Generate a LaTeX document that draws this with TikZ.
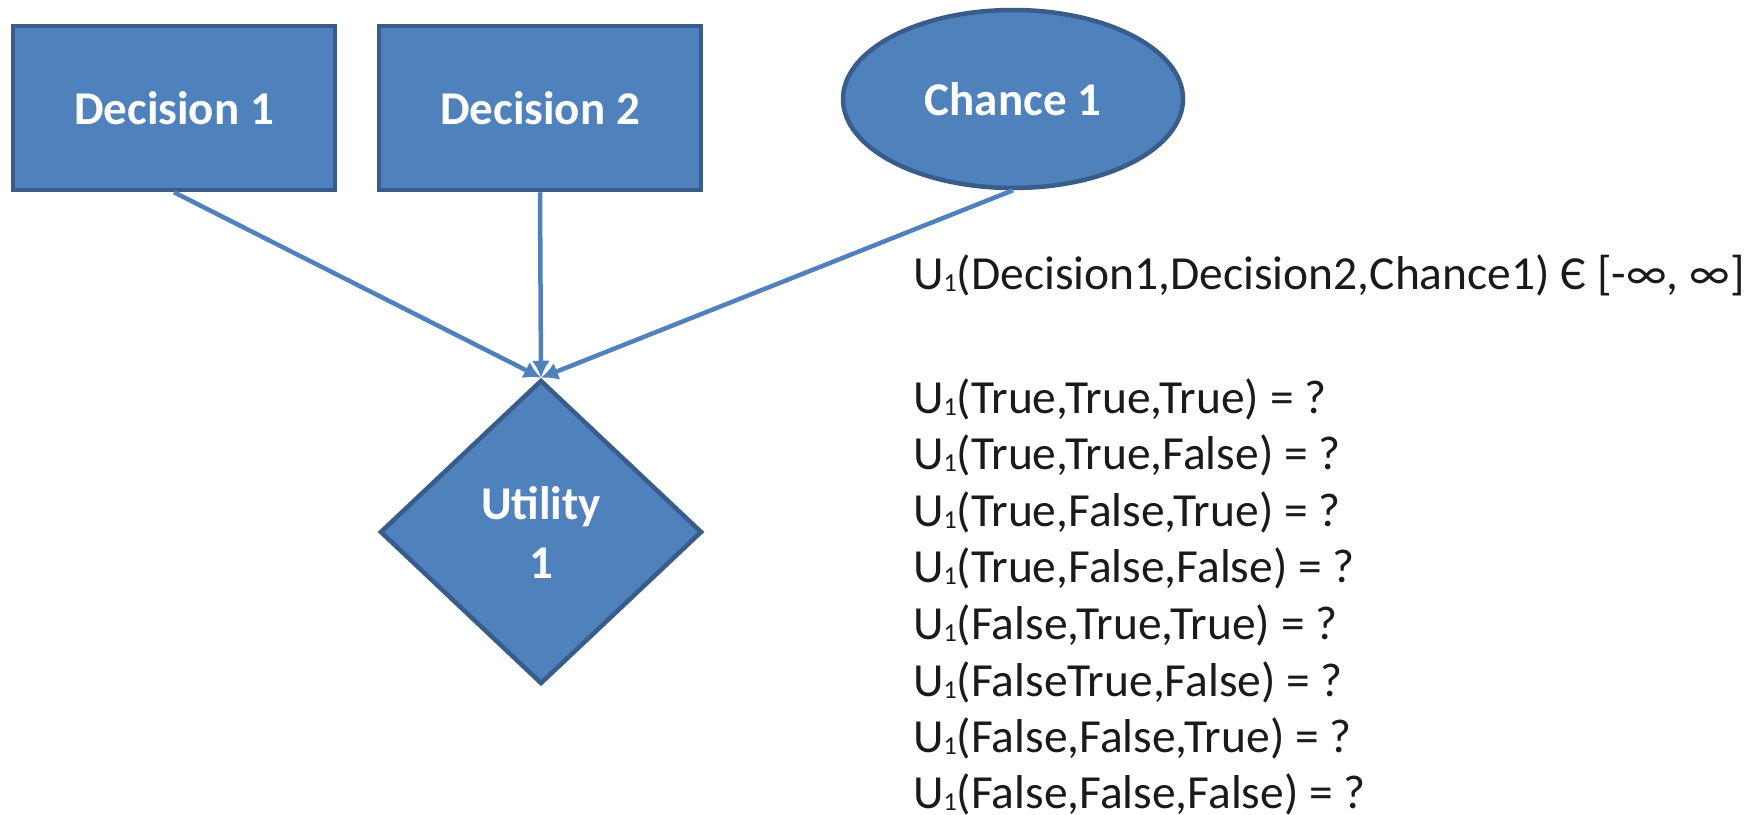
\documentclass[tikz,border=0pt]{standalone}
\usepackage{fontspec}
\setmainfont{Carlito}
\usetikzlibrary{shapes.geometric,arrows.meta}
\definecolor{nodefill}{HTML}{4F81BD}
\definecolor{nodeline}{HTML}{385D8A}
\definecolor{textdark}{HTML}{1A1A1A}
\tikzset{
  shapebase/.style={fill=nodefill, draw=nodeline, line width=4.5pt, text=white,
    font=\fontsize{47}{59}\selectfont\bfseries, inner sep=0pt, align=center},
  decisionbox/.style={shapebase, rectangle, minimum width=322pt, minimum height=164pt},
  chancebox/.style={shapebase, ellipse, minimum width=340pt, minimum height=178pt},
  utilitybox/.style={shapebase, diamond, minimum width=322pt, minimum height=304pt, aspect=1.06},
  link/.style={draw=nodefill, line width=4.5pt, -{Latex[length=17pt,width=18pt]}},
  eqline/.style={anchor=base west, inner sep=0pt, text=textdark,
    font=\fontsize{47.5}{56}\selectfont},
}
\newcommand{\Uone}{U\raisebox{-2pt}{\fontsize{26}{26}\selectfont 1}}
\begin{document}
\begin{tikzpicture}[x=1pt, y=-1pt]
  \useasboundingbox (0,0) rectangle (1764,814);

  % influence-diagram nodes
  \node[decisionbox] (d1) at (174,108) {Decision 1};
  \node[decisionbox] (d2) at (540,108) {Decision 2};
  \node[chancebox]   (c1) at (1013,99) {Chance 1};
  \node[utilitybox]  (u1) at (541,532) {Utility\\1};

  % arcs into the utility node
  \draw[link] (d1.south) -- (u1.north);
  \draw[link] (d2.south) -- (u1.north);
  \draw[link] (c1.south) -- (u1.north);

  % utility function and its table
  \node[eqline] (l0) at (913,289) {\Uone(Decision1,Decision2,Chance1) Є [-∞, ∞]};
  \node[eqline] (l1) at (913,413) {\Uone(True,True,True) = ?};
  \node[eqline] (l2) at (913,469.6) {\Uone(True,True,False) = ?};
  \node[eqline] (l3) at (913,526.2) {\Uone(True,False,True) = ?};
  \node[eqline] (l4) at (913,582.8) {\Uone(True,False,False) = ?};
  \node[eqline] (l5) at (913,639.4) {\Uone(False,True,True) = ?};
  \node[eqline] (l6) at (913,696) {\Uone(FalseTrue,False) = ?};
  \node[eqline] (l7) at (913,752.6) {\Uone(False,False,True) = ?};
  \node[eqline] (l8) at (913,808) {\Uone(False,False,False) = ?};
\end{tikzpicture}
\end{document}
